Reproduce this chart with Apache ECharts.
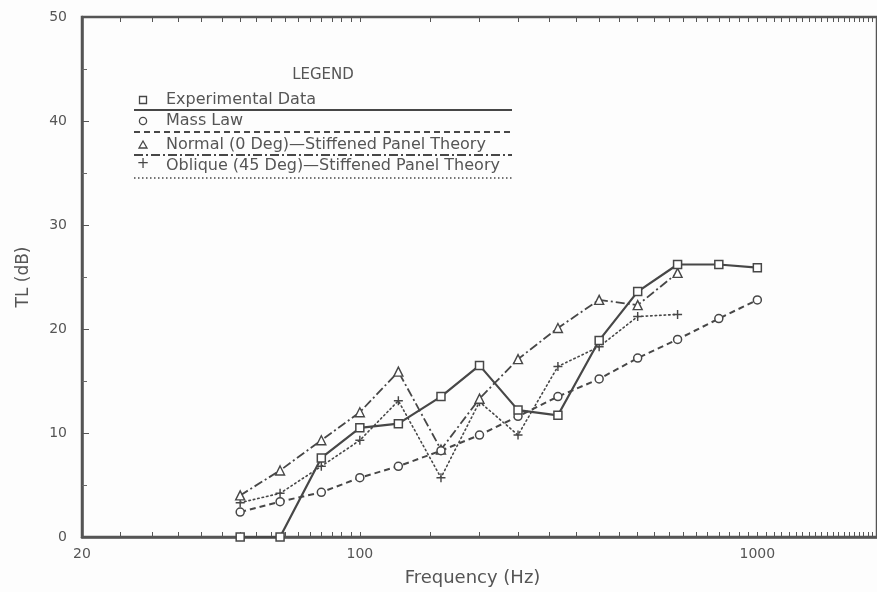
<!DOCTYPE html>
<html>
<head>
<meta charset="utf-8">
<script src="https://cdn.jsdelivr.net/npm/echarts@6/dist/echarts.min.js"></script>
<style>html,body{margin:0;padding:0;background:#fdfdfd;}#c{width:877px;height:592px;}</style>
</head>
<body>
<div id="c"></div>
<script>
// ---- data ----
const freqs = [50, 63, 80, 100, 125, 160, 200, 250, 315, 400, 500, 630, 800, 1000];
const experimental = [0, 0, 7.6, 10.5, 10.9, 13.5, 16.5, 12.2, 11.7, 18.9, 23.6, 26.2, 26.2, 25.9];
const massLaw = [2.4, 3.4, 4.3, 5.7, 6.8, 8.3, 9.8, 11.6, 13.5, 15.2, 17.2, 19.0, 21.0, 22.8];
const normalTheory = [4.0, 6.4, 9.3, 12.0, 15.9, 8.4, 13.3, 17.1, 20.1, 22.8, 22.3, 25.4];
const obliqueTheory = [3.3, 4.2, 6.8, 9.3, 13.1, 5.7, 13.0, 9.8, 16.4, 18.3, 21.2, 21.4];
const seriesNames = ['Experimental Data', 'Mass Law', 'Normal (0 Deg)—Stiffened Panel Theory', 'Oblique (45 Deg)—Stiffened Panel Theory'];
const xTickLabels = [20, 100, 1000];
const yTicks = [0, 10, 20, 30, 40, 50];
// fine axis tick marks on the frequency axis: every 5 Hz below 100, every 50 Hz above
const xFineTicks = [];
for (let f = 25; f < 100; f += 5) xFineTicks.push(f);
for (let f = 100; f <= 2000; f += 50) xFineTicks.push(f);

const ink = '#474747';
const textInk = '#555';
const font = 'DejaVu Sans, sans-serif';
const pairs = (vals) => vals.map((v, i) => [freqs[i], v]);
const plusPath = 'path://M4.2,0H5.8V4.2H10V5.8H5.8V10H4.2V5.8H0V4.2H4.2Z';

const chart = echarts.init(document.getElementById('c'), null, {renderer: 'canvas'});

const legendX1 = 134, legendX2 = 512, mx = 143, tx = 166;
const legendRows = [
  {ty: 100, ly: 110, dash: null, w: 2},
  {ty: 121, ly: 132, dash: [6, 4], w: 2},
  {ty: 145, ly: 155, dash: [9, 3, 2, 3], w: 1.8},
  {ty: 166, ly: 178, dash: [1.5, 2.5], w: 1.5}
];
const markerGraphics = [
  {type: 'rect', shape: {x: mx - 3.5, y: 100 - 3.5, width: 7, height: 7}, style: {fill: '#fff', stroke: ink, lineWidth: 1.3}},
  {type: 'circle', shape: {cx: mx, cy: 121, r: 3.6}, style: {fill: '#fff', stroke: ink, lineWidth: 1.3}},
  {type: 'polygon', shape: {points: [[mx, 141], [mx + 4, 148], [mx - 4, 148]]}, style: {fill: '#fff', stroke: ink, lineWidth: 1.3}},
  {type: 'text', style: {text: '+', x: mx, y: 164, fill: ink, font: '15px ' + font, textAlign: 'center', textVerticalAlign: 'middle'}}
];
const graphics = [
  {type: 'text', style: {text: 'LEGEND', x: 323, y: 75, fill: textInk, font: '15px ' + font, textAlign: 'center', textVerticalAlign: 'middle'}}
];
legendRows.forEach((r, i) => {
  graphics.push({type: 'text', style: {text: seriesNames[i], x: tx, y: r.ty, fill: textInk, font: '16px ' + font, textAlign: 'left', textVerticalAlign: 'middle'}});
  graphics.push({type: 'line', shape: {x1: legendX1, y1: r.ly, x2: legendX2, y2: r.ly}, style: {stroke: ink, lineWidth: r.w, lineDash: r.dash || null}});
  graphics.push(markerGraphics[i]);
});

const option = {
  backgroundColor: '#fdfdfd',
  animation: false,
  grid: {left: 82, top: 17, bottom: 55, right: -6, show: true, borderColor: '#555', borderWidth: 2.5, backgroundColor: 'transparent'},
  xAxis: [{
    type: 'log', logBase: 10, min: 20, max: 2000,
    name: 'Frequency (Hz)', nameLocation: 'middle', nameGap: 32,
    nameTextStyle: {fontFamily: font, fontSize: 18, color: textInk, padding: [0, 14, 0, 0]},
    axisLine: {show: true, lineStyle: {color: '#555', width: 2.5}},
    axisTick: {show: true, inside: true, length: 5, customValues: xFineTicks, lineStyle: {color: '#555'}},
    splitLine: {show: false},
    axisLabel: {fontFamily: font, fontSize: 14, color: textInk, margin: 10, customValues: xTickLabels,
      formatter: (v) => String(Math.round(v))}
  }, {
    type: 'log', logBase: 10, min: 20, max: 2000, position: 'top',
    axisLine: {show: false},
    axisTick: {show: true, inside: true, length: 5, customValues: xFineTicks, lineStyle: {color: '#555'}},
    axisLabel: {show: false}, splitLine: {show: false}
  }],
  yAxis: {
    type: 'value', min: 0, max: 50, interval: 10,
    name: 'TL (dB)', nameLocation: 'middle', nameGap: 50, nameRotate: 90,
    nameTextStyle: {fontFamily: font, fontSize: 17, color: textInk},
    axisLine: {show: true, lineStyle: {color: '#555', width: 2.5}},
    axisTick: {show: true, inside: true, length: 7, lineStyle: {color: '#555'}},
    minorTick: {show: true, splitNumber: 2, length: 5, lineStyle: {color: '#666'}},
    splitLine: {show: false},
    axisLabel: {fontFamily: font, fontSize: 14, color: textInk, margin: 15,
      formatter: (v) => yTicks.includes(v) ? String(v) : ''}
  },
  graphic: graphics,
  series: [
    {name: seriesNames[0], type: 'line', data: pairs(experimental), symbol: 'rect', symbolSize: 8,
     lineStyle: {color: ink, width: 2.2, type: 'solid'},
     itemStyle: {color: '#fff', borderColor: ink, borderWidth: 1.5}, z: 5},
    {name: seriesNames[1], type: 'line', data: pairs(massLaw), symbol: 'circle', symbolSize: 8,
     lineStyle: {color: ink, width: 2, type: [6, 4]},
     itemStyle: {color: '#fff', borderColor: ink, borderWidth: 1.5}, z: 4},
    {name: seriesNames[2], type: 'line', data: pairs(normalTheory), symbol: 'triangle', symbolSize: 9,
     lineStyle: {color: ink, width: 1.8, type: [9, 3, 2, 3]},
     itemStyle: {color: '#fff', borderColor: ink, borderWidth: 1.4}, z: 3},
    {name: seriesNames[3], type: 'line', data: pairs(obliqueTheory), symbol: plusPath, symbolSize: 9,
     lineStyle: {color: ink, width: 1.6, type: [1.5, 3], cap: 'round'},
     itemStyle: {color: ink, borderWidth: 0}, z: 2}
  ]
};
chart.setOption(option);
</script>
</body>
</html>
